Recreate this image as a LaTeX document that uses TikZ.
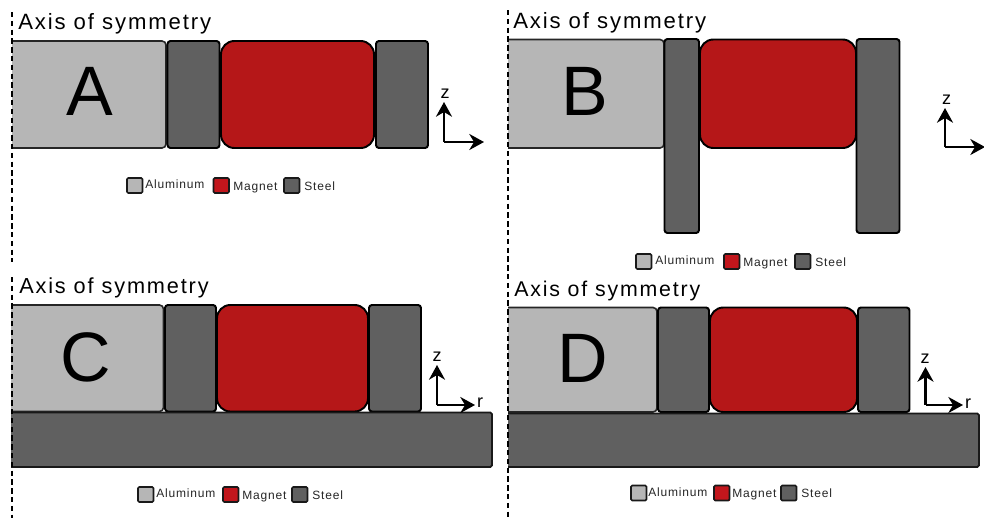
\documentclass[tikz,border=0pt]{standalone}
\usepackage{fontspec}
\setmainfont{Liberation Sans}
\newfontfamily\spacedfont[LetterSpace=7]{Liberation Sans}
\newfontfamily\titlefont[LetterSpace=8.5]{Liberation Sans}
\usetikzlibrary{arrows.meta}
\definecolor{alu}{HTML}{B6B6B6}
\definecolor{steelc}{HTML}{606060}
\definecolor{magc}{HTML}{B51718}
\definecolor{maglegend}{HTML}{C2161C}
\tikzset{
  x=0.75pt,y=-0.75pt,
  aluf/.style={fill=alu},
  aluline/.style={draw=black!85,line width=1.2pt,rounded corners=3pt},
  steelbox/.style={fill=steelc,draw=black,line width=1.45pt,rounded corners=2.2pt},
  basefill/.style={fill=steelc},
  baseline/.style={draw=black!90,line width=1.3pt,rounded corners=1.2pt},
  magbox/.style={fill=magc,draw=black,line width=1.45pt,rounded corners=10pt},
  axisline/.style={draw=black,line width=0.85pt,dash pattern=on 4pt off 2.6pt},
  title/.style={anchor=base west,inner sep=0pt,font=\titlefont\fontsize{16.6pt}{18pt}\selectfont},
  titlec/.style={anchor=base west,inner sep=0pt,font=\titlefont\fontsize{16.3pt}{18pt}\selectfont},
  titled/.style={anchor=base west,inner sep=0pt,font=\titlefont\fontsize{16pt}{18pt}\selectfont},
  bigletter/.style={anchor=center,inner sep=0pt,font=\fontsize{52.5pt}{56pt}\selectfont},
  legendtext/.style={anchor=base west,inner sep=0pt,text=black!85,font=\spacedfont\fontsize{9pt}{10pt}\selectfont},
  swatch/.style={draw=black!90,line width=1.2pt,rounded corners=1pt},
  triad/.style={draw=black,line width=1.9pt,-{Stealth[length=11pt,width=12pt,inset=3.5pt]}},
  triadtext/.style={anchor=center,inner sep=0pt,font=\fontsize{13.5pt}{14pt}\selectfont},
}
% #1 x left, #2 x aluminium right, #3 y top, #4 y bottom
\newcommand{\alublock}[4]{
  \fill[aluf,rounded corners=3pt] (#1-3,#3) rectangle (#2,#4);
  \fill[white] (#1-8,#3-3) rectangle (#1,#4+3);
  \draw[aluline] (#1,#3) -- (#2,#3) -- (#2,#4) -- (#1,#4);
}
% #1 x of first swatch, #2 y top, then text x positions
\newcommand{\legendrow}[8]{
  \fill[alu]  (#1,#2) rectangle ++(15.5,15);
  \draw[swatch] (#1,#2) rectangle ++(15.5,15);
  \node[legendtext] (#8al) at (#3,#2+10.5) {Aluminum};
  \fill[maglegend] (#4,#2) rectangle ++(15.5,15);
  \draw[swatch] (#4,#2) rectangle ++(15.5,15);
  \node[legendtext] (#8ma) at (#5,#2+12) {Magnet};
  \fill[steelc] (#6,#2) rectangle ++(15.5,15);
  \draw[swatch] (#6,#2) rectangle ++(15.5,15);
  \node[legendtext] (#8st) at (#7,#2+12) {Steel};
}
\begin{document}
\begin{tikzpicture}
\useasboundingbox (0,0) rectangle (984,518);
\fill[white] (0,0) rectangle (984,518);

% ---------- A
\alublock{12}{166}{41}{148}
\draw[steelbox] (167.5,41) rectangle (219.5,148);
\draw[magbox] (221,41) rectangle (374,148);
\draw[steelbox] (376,41) rectangle (428,148);
\node[title] (ta) at (18,29.5) {Axis of symmetry};
\node[bigletter] (la) at (89.5,91) {A};
\legendrow{127}{178}{145}{213.5}{233}{284}{304}{a}
\coordinate (a0) at (444,142); \coordinate (az) at (444,102); \coordinate (ar) at (484,142);
\draw[triad] (a0) -- (az);
\draw[triad] (a0) -- (ar);
\node[triadtext] (zA) at (445,94) {z};

% ---------- B
\alublock{508}{664}{39.5}{148}
\draw[magbox] (700,39.5) rectangle (856,148);
\draw[steelbox] (664.5,39) rectangle (699,233);
\draw[steelbox] (856.5,39) rectangle (899.5,233);
\node[title] (tb) at (513,28) {Axis of symmetry};
\node[bigletter] (lb) at (585,91) {B};
\legendrow{636}{254}{655}{724}{743}{795}{815}{b}
\coordinate (b0) at (945,147); \coordinate (bz) at (945,108); \coordinate (br) at (985,147);
\draw[triad] (b0) -- (bz);
\draw[triad] (b0) -- (br);
\node[triadtext] (zB) at (946.5,100) {z};

% ---------- C
\alublock{11}{163.5}{305}{411.5}
\draw[steelbox] (165,305) rectangle (216,411.5);
\draw[magbox] (217,305) rectangle (368,411.5);
\draw[steelbox] (369,305) rectangle (421,411.5);
\fill[basefill] (11,412.5) rectangle (492,467);
\draw[baseline] (11,412.5) -- (492,412.5) -- (492,467) -- (11,467);
\node[titlec] (tc) at (19,293.5) {Axis of symmetry};
\node[bigletter] (lc) at (86,357) {C};
\legendrow{138}{487}{156}{223}{242}{292}{312}{c}
\coordinate (c0) at (437,405); \coordinate (cz) at (437,365); \coordinate (cr) at (475,405);
\draw[triad] (c0) -- (cz);
\draw[triad] (c0) -- (cr);
\node[triadtext] (zC) at (437,357) {z};
\node[triadtext] (rC) at (480,403) {r};

% ---------- D
\alublock{508}{657}{307.5}{412}
\draw[steelbox] (658,307.5) rectangle (709,412);
\draw[magbox] (710,307.5) rectangle (857,412);
\draw[steelbox] (858,307.5) rectangle (909.5,412);
\fill[basefill] (508,413.5) rectangle (979,467);
\draw[baseline] (508,413.5) -- (979,413.5) -- (979,467) -- (508,467);
\node[titled] (td) at (514,296.5) {Axis of symmetry};
\node[bigletter] (ld) at (583,358) {D};
\legendrow{631}{485.5}{648}{714}{732}{781}{801}{d}
\coordinate (d0) at (925.5,405); \coordinate (dz) at (925.5,367); \coordinate (dr) at (963,405);
\draw[triad] (d0) -- (dz);
\draw[triad] (d0) -- (dr);
\node[triadtext] (zD) at (925,359) {z};
\node[triadtext] (rD) at (968,404) {r};

% ---------- axes of symmetry
\coordinate (s1) at (12,12); \coordinate (s2) at (12,262);
\coordinate (s3) at (12,277); \coordinate (s4) at (12,518);
\coordinate (s5) at (508,10); \coordinate (s6) at (508,518);
\draw[axisline] (s1) -- (s2);
\draw[axisline] (s3) -- (s4);
\draw[axisline] (s5) -- (s6);
\end{tikzpicture}
\end{document}
